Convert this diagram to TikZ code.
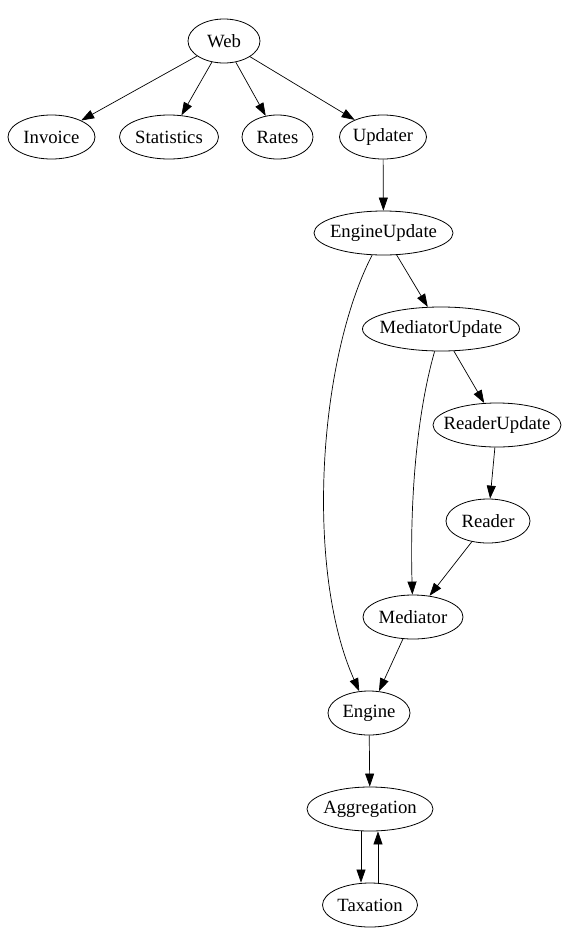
\documentclass[tikz,border=0pt]{standalone}
\usepackage{fontspec}
\setmainfont{Liberation Serif}
\usetikzlibrary{arrows.meta,shapes.geometric,calc}
\newcommand{\nlbl}[1]{\makebox[0pt][c]{#1}}
\begin{document}
\begin{tikzpicture}[x=1pt,y=-1pt,
  gnode/.style={draw,ellipse,inner sep=0pt,minimum height=44pt,line width=0.8pt,
    font=\fontsize{18.7}{22}\selectfont},
  edge/.style={line width=0.7pt,-{Triangle[length=13pt,width=9pt]}},
  every node/.append style={}]
\useasboundingbox (0,0) rectangle (576,945);
\node[gnode,minimum width=72pt]  (web)  at (224,41)  {\nlbl{Web}};
\node[gnode,minimum width=87pt]  (inv)  at (51.5,137) {\nlbl{Invoice}};
\node[gnode,minimum width=99pt]  (stat) at (169,137) {\nlbl{Statistics}};
\node[gnode,minimum width=71pt]  (rat)  at (277.5,137) {\nlbl{Rates}};
\node[gnode,minimum width=87pt]  (upd)  at (383,137) {\nlbl{Updater}};
\node[gnode,minimum width=139pt] (eu)   at (383.5,233) {\nlbl{EngineUpdate}};
\node[gnode,minimum width=157pt] (mu)   at (441,329) {\nlbl{MediatorUpdate}};
\node[gnode,minimum width=128pt] (ru)   at (497,425) {\nlbl{ReaderUpdate}};
\node[gnode,minimum width=84pt]  (rd)   at (488,521) {\nlbl{Reader}};
\node[gnode,minimum width=100pt] (med)  at (413,617) {\nlbl{Mediator}};
\node[gnode,minimum width=82pt]  (eng)  at (369,713) {\nlbl{Engine}};
\node[gnode,minimum width=126pt] (agg)  at (370,809) {\nlbl{Aggregation}};
\node[gnode,minimum width=95pt]  (tax)  at (370,905) {\nlbl{Taxation}};
\draw[edge] (web) -- (inv);
\draw[edge] (web) -- (stat);
\draw[edge] (web) -- (rat);
\draw[edge] (web) -- (upd);
\draw[edge] (upd) -- (eu);
\draw[edge] (eu) -- (mu);
\draw[edge] (mu) -- (ru);
\draw[edge] (ru) -- (rd);
\draw[edge] (rd) -- (med);
\draw[edge] (med) -- (eng);
\draw[edge] (eu) .. controls (318,360) and (305,570) .. (eng);
\draw[edge] (mu) .. controls (415,420) and (410,510) .. (med);
\draw[edge] (eng) -- (agg);
\draw[edge] ($(agg.south)+(-9,0)$) -- ($(tax.north)+(-9,0)$);
\draw[edge] ($(tax.north)+(8,0)$) -- ($(agg.south)+(8,0)$);
\end{tikzpicture}
\end{document}
